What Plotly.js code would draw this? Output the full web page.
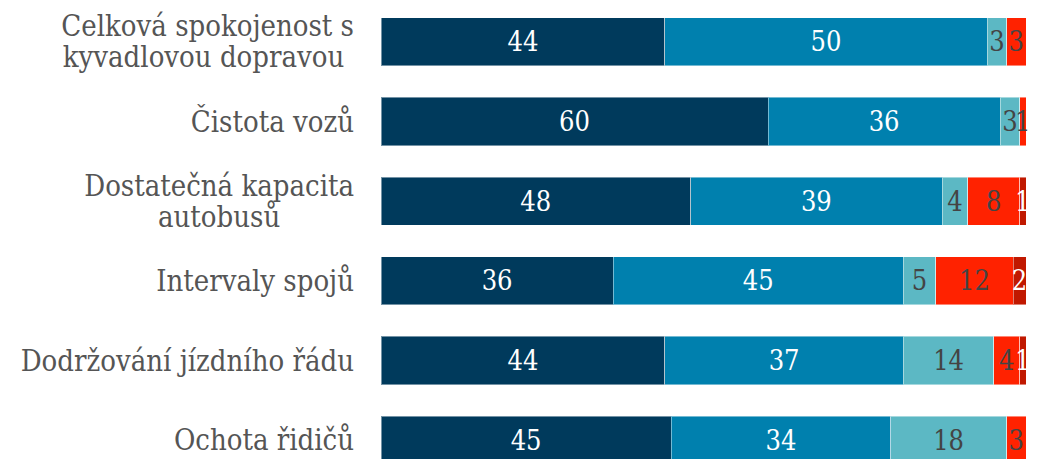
<!DOCTYPE html>
<html>
<head>
<meta charset="utf-8">
<script src="https://cdn.plot.ly/plotly-3.0.1.min.js"></script>
<style>
html, body { margin: 0; padding: 0; overflow: hidden; background: #fff; }
#chart { width: 1039px; height: 482px; }
</style>
</head>
<body>
<div id="chart"></div>
<script>
var categories = [
  "Celková spokojenost s<br>kyvadlovou dopravou ",
  "Čistota vozů",
  "Dostatečná kapacita<br>autobusů",
  "Intervaly spojů",
  "Dodržování jízdního řádu",
  "Ochota řidičů"
];
var seriesNames = ["Velmi spokojen", "Spíše spokojen", "Neví", "Spíše nespokojen", "Velmi nespokojen"];
var s1 = [44, 60, 48, 36, 44, 45];
var s2 = [50, 36, 39, 45, 37, 34];
var s3 = [3, 3, 4, 5, 14, 18];
var s4 = [3, 1, 8, 12, 4, 3];
var s5 = [0, 0, 1, 2, 1, 0];

var seriesValues = [s1, s2, s3, s4, s5];
var colors = ["#003a5c", "#0080ae", "#5cb8c4", "#ff2200", "#c01800"];
var textColors = ["#ffffff", "#ffffff", "#444444", "#444444", "#ffffff"];
var FONT = "'DejaVu Serif Condensed', 'DejaVu Serif', serif";
var LABEL_SIZE = 29;
var LINE_GAP = 31;

var data = seriesValues.map(function (vals, i) {
  return {
    type: "bar",
    orientation: "h",
    name: seriesNames[i],
    y: categories,
    x: vals,
    text: vals.map(function (v) { return v > 0 ? String(v) : ""; }),
    textposition: "inside",
    insidetextanchor: "middle",
    constraintext: "none",
    cliponaxis: false,
    textfont: { family: FONT, size: 27, color: textColors[i] },
    marker: { color: colors[i], line: { color: "rgba(255,255,255,0.45)", width: 1 } },
    hoverinfo: "x+name"
  };
});

var layout = {
  width: 1039,
  height: 482,
  margin: { l: 381, r: 13, t: 2, b: 2 },
  barmode: "stack",
  bargap: 0.397,
  showlegend: false,
  paper_bgcolor: "#ffffff",
  plot_bgcolor: "#ffffff",
  font: { family: FONT, size: LABEL_SIZE, color: "#555555" },
  xaxis: { range: [0, 100], visible: false, fixedrange: true },
  yaxis: {
    autorange: "reversed",
    showgrid: false,
    zeroline: false,
    showline: false,
    ticks: "",
    ticklabelstandoff: 26,
    tickfont: { family: FONT, size: LABEL_SIZE, color: "#555555" },
    fixedrange: true
  }
};

function centerMultilineTicks() {
  var texts = document.querySelectorAll("#chart .ytick text");
  texts.forEach(function (t) {
    var spans = t.querySelectorAll("tspan.line");
    if (spans.length < 2) return;
    var n = spans.length;
    var shift = (n - 1) * (1.3 * LABEL_SIZE - LINE_GAP) / 2;
    spans.forEach(function (s, i) {
      s.setAttribute("dy", (i * LINE_GAP + shift) + "px");
    });
    var x0 = parseFloat(t.getAttribute("x"));
    var w = t.getBBox().width;
    var cx = x0 - w / 2;
    t.setAttribute("text-anchor", "middle");
    t.setAttribute("x", cx);
    spans.forEach(function (s) { s.setAttribute("x", cx); });
  });
}

Plotly.newPlot("chart", data, layout, { displayModeBar: false, staticPlot: true }).then(centerMultilineTicks);
</script>
</body>
</html>
